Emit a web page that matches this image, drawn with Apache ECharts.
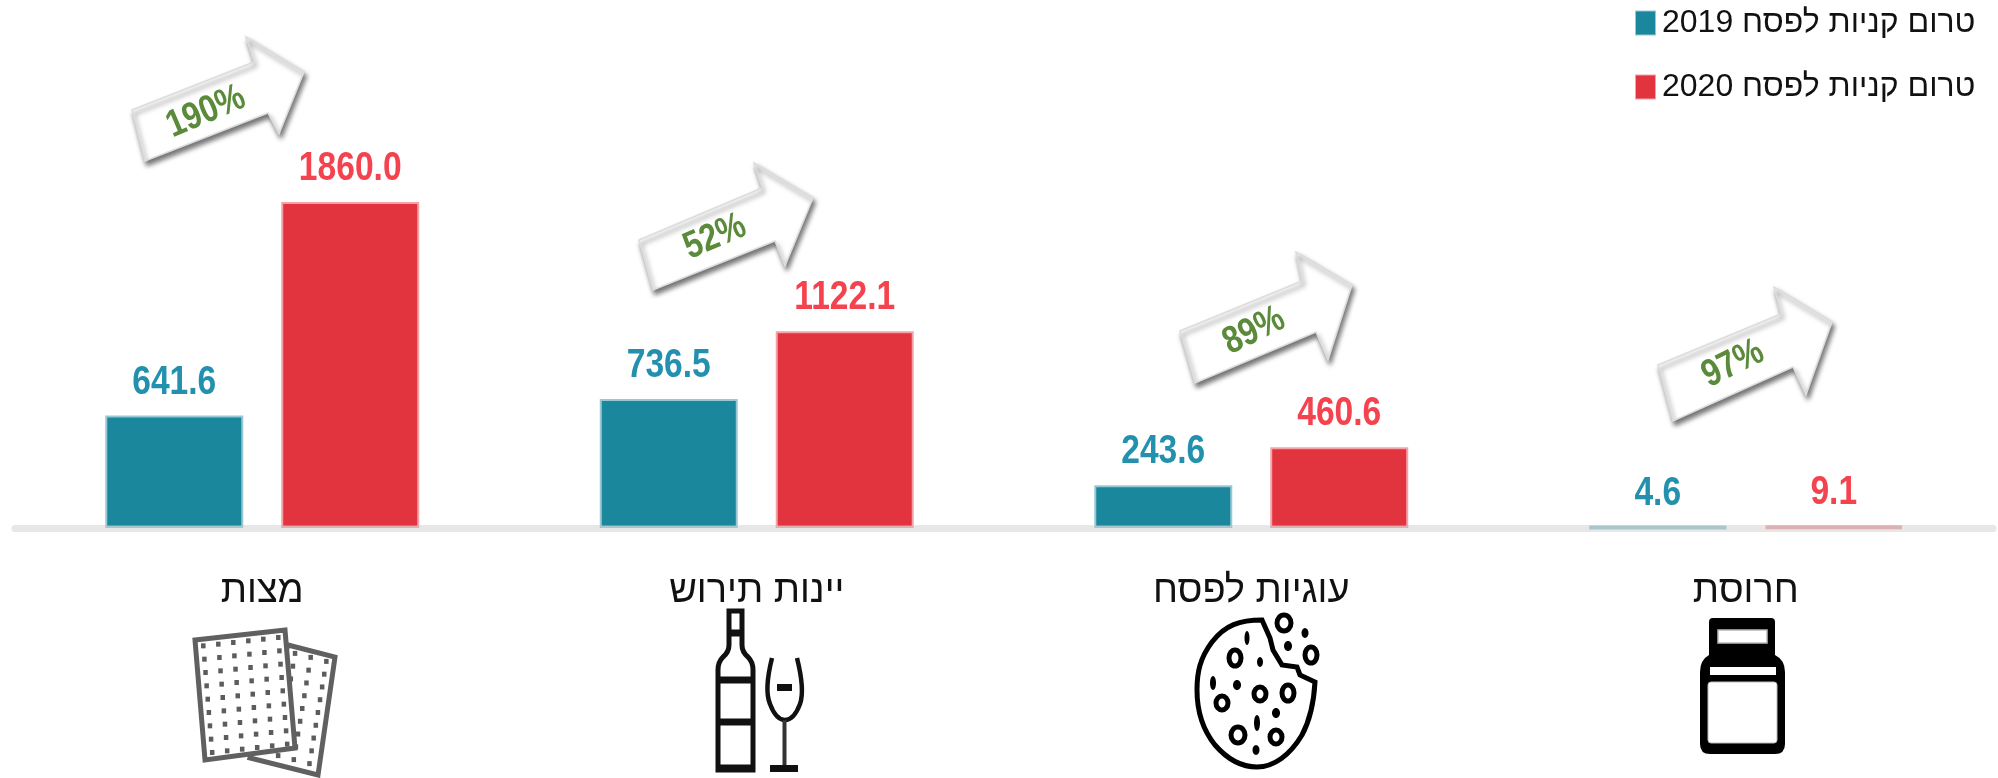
<!DOCTYPE html>
<html lang="he"><head><meta charset="utf-8">
<style>html,body{margin:0;background:#fff}#c{width:1998px;height:778px;direction:rtl}</style>
<script src="https://cdn.jsdelivr.net/npm/echarts@6/dist/echarts.min.js"></script>
</head><body><div id="c"></div>
<script>
const categories = ['מצות','יינות תירוש','עוגיות לפסח','חרוסת'];
const seriesNames = ['טרום קניות לפסח 2019','טרום קניות לפסח 2020'];
const values2019 = [641.6,736.5,243.6,4.6];
const values2020 = [1860.0,1122.1,460.6,9.1];
const changes = ['190%','52%','89%','97%'];

const FONT = '"Liberation Sans",Arial,sans-serif';
const TEAL='#1a879d', RED='#e2343f';

let pathCount=0;
function pathEl(d,style){
  const name='iconPath'+(pathCount++);
  echarts.graphic.registerShape(name,echarts.graphic.extendPath(d,{}));
  return {type:name,style};
}
function arrow(points, label, cx, cy, rot){
  return [
   {type:'polygon',z:10,shape:{points},style:{fill:'#fff',stroke:'#dcdcdc',lineWidth:1.5,shadowBlur:5,shadowOffsetX:2,shadowOffsetY:4,shadowColor:'rgba(0,0,0,0.55)'}},
   {type:'text',z:11,x:cx,y:cy,rotation:rot*Math.PI/180,scaleX:0.84,style:{text:label,fill:'#5a8a3a',font:'bold 38px '+FONT,align:'center',verticalAlign:'middle'}}
  ];
}
const gfx=[];
gfx.push(...arrow([[132,110],[254,62],[246,37],[304,72],[279,134],[268,113],[145,161]],changes[0],206,112,23));
gfx.push(...arrow([[639,240],[762,188],[754,163],[813,198],[785,266],[775,241],[653,290]],changes[1],715,237,23));
gfx.push(...arrow([[1180,331],[1302,281],[1296,252],[1352,285],[1328,360],[1316,332],[1195,383]],changes[2],1254,331,26));
gfx.push(...arrow([[1658,365],[1781,314],[1774,287],[1832,322],[1806,395],[1793,367],[1673,421]],changes[3],1733,364,26));

// matzah icon
const mStroke={stroke:'#606060',lineWidth:5,fill:'#fff'};
const dot='#5c5c5c';
gfx.push({type:'polygon',shape:{points:[[288,645],[335,657],[318,775],[250,758]]},style:mStroke});
for(let r=0;r<9;r++)for(let c=0;c<3;c++){
  const u=(c+0.5)/3,v=(r+0.5)/9;
  const x=288+47*u-19*v, y=645+12*u+115*v;
  gfx.push({type:'rect',shape:{x:x-2,y:y-2.5,width:4.5,height:5},style:{fill:dot}});
}
gfx.push({type:'polygon',shape:{points:[[195,640],[285,630],[295,748],[205,760]]},style:mStroke});
for(let r=0;r<9;r++)for(let c=0;c<6;c++){
  const u=(c+0.5)/6,v=(r+0.5)/9;
  const x=195+90*u+10*v, y=640-10*u+120*v;
  gfx.push({type:'rect',shape:{x:x-2,y:y-2.5,width:4.5,height:5},style:{fill:dot}});
}
// bottle and glass
const ink={stroke:'#111',lineWidth:5,fill:'none'};
gfx.push(pathEl('M729 611H742V645Q742 652 748 657Q753 662 753 670V770H718V670Q718 662 723 657Q729 652 729 645Z',ink));
gfx.push(pathEl('M718 680H753M718 722H753M729 633H742M718 768H753',{stroke:'#111',lineWidth:7,fill:'none'}));
gfx.push(pathEl('M772 658Q764 690 770 704Q776 720 785 720Q794 720 800 704Q805 690 797 658',{stroke:'#111',lineWidth:4.5,fill:'none'}));
gfx.push(pathEl('M784.5 720V768',{stroke:'#333',lineWidth:4,fill:'none'}));
gfx.push(pathEl('M770 768.5H798M777 687.5H792',{stroke:'#111',lineWidth:7,fill:'none'}));
// cookie
gfx.push(pathEl('M1262 620C1240 620 1225 625 1212 642C1200 658 1197 672 1197 690C1197 710 1203 730 1215 745C1228 760 1242 767 1257 767C1274 767 1290 755 1302 735C1310 720 1314 700 1315 682L1300 675L1297 667L1282 665L1273 650L1270 638Z',{stroke:'#000',lineWidth:5,fill:'none'}));
[[1235,658,6,8],[1222,703,6,7],[1260,694,6,7],[1288,693,6,8],[1238,735,7,8],[1276,737,6,7],[1284,623,7,8],[1311,655,6,8]].forEach(p=>{
  gfx.push({type:'ellipse',shape:{cx:p[0],cy:p[1],rx:p[2],ry:p[3]},style:{stroke:'#000',lineWidth:5,fill:'#fff'}});
});
[[1247,638,2.5,7],[1260,662,3,5],[1213,683,3,7],[1237,685,4,5],[1276,713,4,5],[1257,723,3,8],[1256,750,3.5,5],[1288,646,4,5],[1305,633,3.5,5]].forEach(p=>{
  gfx.push({type:'ellipse',shape:{cx:p[0],cy:p[1],rx:p[2],ry:p[3]},style:{fill:'#000'}});
});
// jar
gfx.push(pathEl('M1713 618H1771Q1775 618 1775 622V655Q1785 660 1785 672V744Q1785 754 1775 754H1710Q1700 754 1700 744V672Q1700 660 1709 655V622Q1709 618 1713 618Z',{fill:'#000'}));
gfx.push({type:'rect',shape:{x:1718,y:630,width:49,height:13},style:{fill:'#fff',stroke:'#bbb',lineWidth:1.5}});
gfx.push({type:'rect',shape:{x:1710,y:667,width:66,height:8},style:{fill:'#fff'}});
gfx.push({type:'rect',shape:{x:1708,y:682,width:69,height:61,r:3},style:{fill:'#fff',stroke:'#bbb',lineWidth:1}});

// value labels use the axis scales through a custom series, so the narrow face of the original can be reproduced
function labelSeries(values,color,shift){
  return {type:'custom',xAxisIndex:0,yAxisIndex:0,z:6,silent:true,legendHoverLink:false,
    encode:{x:0,y:1},
    data:values.map((v,i)=>[i,v]),
    renderItem:(params,api)=>{
      const pt=api.coord([api.value(0),api.value(1)]);
      return {type:'text',x:pt[0]+shift,y:pt[1]-13,scaleX:0.84,
        style:{text:api.value(1).toFixed(1),fill:color,font:'bold 40px '+FONT,align:'center',verticalAlign:'bottom'}};
    }};
}
const chart=echarts.init(document.getElementById('c'),null,{renderer:'canvas'});
chart.setOption({
  animation:false,
  backgroundColor:'#fff',
  legend:{left:1635,top:7,orient:'vertical',padding:0,itemGap:32,itemWidth:19,itemHeight:23,icon:'rect',
    data:seriesNames,textStyle:{fontFamily:FONT,fontSize:32,color:'#111',lineHeight:23,padding:[0,0,0,2]}},
  grid:{left:15,right:5,top:177.4,bottom:250},
  xAxis:{type:'category',data:categories,z:5,
    axisLine:{lineStyle:{color:'rgba(195,195,195,0.4)',width:7}},axisTick:{show:false},
    axisLabel:{margin:45,color:'#111',fontFamily:FONT,fontSize:38}},
  yAxis:{type:'value',min:0,max:2000,show:false,splitLine:{show:false}},
  series:[
    {name:seriesNames[0],type:'bar',data:values2019,barWidth:138,barGap:'27.5%',itemStyle:{color:TEAL,borderColor:'rgba(26,135,157,0.45)',borderWidth:4}},
    {name:seriesNames[1],type:'bar',data:values2020,barWidth:138,itemStyle:{color:RED,borderColor:'rgba(226,52,63,0.45)',borderWidth:4}},
    labelSeries(values2019,'#2391ae',-88),
    labelSeries(values2020,'#f4434e',88)
  ],
  graphic:gfx
});
</script></body></html>
